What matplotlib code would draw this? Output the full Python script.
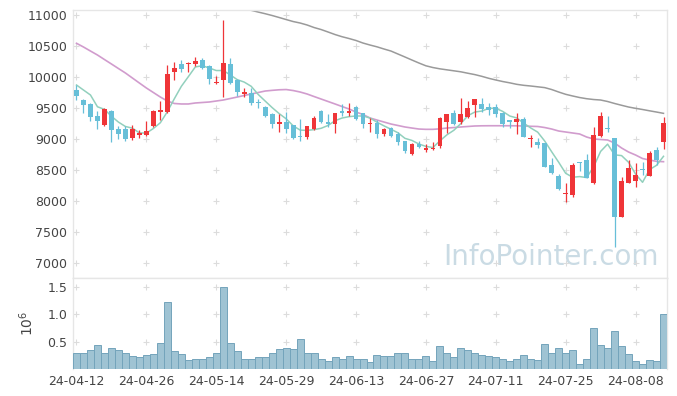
import matplotlib
matplotlib.use("Agg")
import matplotlib.pyplot as plt
import numpy as np
import pandas as pd

# daily candles (open, high, low, close)
opens = [9790, 9629, 9564, 9376, 9226, 9452, 9157, 9161, 9020, 9065,
         9065, 9210, 9440, 9440, 10085, 10205, 10205, 10215, 10275, 10180,
         9900, 9952, 10205, 9952, 9720, 9750, 9585, 9520, 9410, 9236,
         9270, 9226, 9045, 9037, 9160, 9452, 9270, 9236, 9452, 9425,
         9520, 9414, 9236, 9260, 9085, 9170, 9080, 8970, 8753, 8925,
         8823, 8835, 8890, 9270, 9414, 9280, 9360, 9548, 9565, 9510,
         9510, 9420, 9305, 9280, 9320, 8995, 8955, 8930, 8580, 8403,
         8120, 8097, 8625, 8662, 8285, 9050, 9180, 9010, 7747, 8295,
         8330, 8510, 8405, 8822, 8956]
highs = [9870, 9640, 9576, 9450, 9500, 9470, 9210, 9210, 9230, 9150,
         9290, 9460, 9610, 10194, 10245, 10275, 10235, 10320, 10300, 10190,
         10020, 10920, 10300, 9960, 9830, 9830, 9645, 9525, 9420, 9400,
         9440, 9230, 9330, 9215, 9370, 9460, 9400, 9420, 9560, 9575,
         9530, 9420, 9340, 9300, 9180, 9190, 9120, 8975, 8935, 8960,
         8920, 8955, 9360, 9410, 9470, 9655, 9620, 9650, 9655, 9575,
         9565, 9430, 9310, 9415, 9360, 9065, 9010, 8940, 8690, 8435,
         8285, 8605, 8625, 8755, 9200, 9440, 9370, 9015, 8380, 8660,
         8610, 8625, 8810, 8875, 9350]
lows = [9630, 9419, 9295, 9157, 9210, 8956, 8995, 8960, 8985, 9020,
        9050, 9200, 9300, 9415, 9950, 10075, 10085, 10180, 10130, 9890,
        9895, 9680, 9895, 9700, 9670, 9550, 9495, 9360, 9170, 9120,
        9100, 8995, 8970, 8995, 9150, 9260, 9200, 9090, 9375, 9370,
        9305, 9185, 9120, 9010, 9050, 9040, 8910, 8770, 8740, 8850,
        8795, 8830, 8850, 9090, 9220, 9250, 9335, 9360, 9440, 9390,
        9360, 9200, 9170, 9080, 9030, 8875, 8850, 8550, 8440, 8180,
        7980, 8070, 8490, 8370, 8280, 9025, 9110, 7263, 7745, 8290,
        8230, 8420, 8400, 8580, 8835]
closes = [9700, 9553, 9360, 9295, 9484, 9145, 9081, 9005, 9161, 9100,
          9130, 9452, 9470, 10048, 10145, 10130, 10230, 10258, 10150, 9960,
          9925, 10230, 9910, 9763, 9763, 9585, 9575, 9375, 9235, 9280,
          9165, 9010, 9030, 9210, 9343, 9270, 9240, 9414, 9425, 9455,
          9323, 9240, 9253, 9085, 9160, 9050, 8955, 8805, 8915, 8870,
          8860, 8860, 9345, 9400, 9240, 9400, 9495, 9640, 9480, 9460,
          9405, 9240, 9270, 9325, 9037, 9020, 8900, 8555, 8457, 8193,
          8130, 8580, 8610, 8375, 9065, 9370, 9165, 7747, 8315, 8527,
          8420, 8500, 8770, 8660, 9253]
# closes of the 4 days before the window (needed for the 5-day average)
prev_closes = [9958, 9760, 10245, 9692]

# volume in millions
volume = [0.30, 0.29, 0.34, 0.43, 0.29, 0.38, 0.345, 0.30, 0.23, 0.21,
          0.25, 0.27, 0.47, 1.21, 0.32, 0.27, 0.16, 0.18, 0.19, 0.21,
          0.285, 1.50, 0.47, 0.32, 0.18, 0.19, 0.21, 0.21, 0.30, 0.36,
          0.375, 0.36, 0.54, 0.30, 0.285, 0.175, 0.14, 0.21, 0.19, 0.235,
          0.175, 0.19, 0.12, 0.25, 0.23, 0.23, 0.30, 0.285, 0.19, 0.175,
          0.23, 0.14, 0.41, 0.30, 0.21, 0.39, 0.34, 0.285, 0.25, 0.23,
          0.21, 0.175, 0.14, 0.175, 0.25, 0.19, 0.16, 0.45, 0.30, 0.375,
          0.30, 0.34, 0.10, 0.175, 0.74, 0.43, 0.375, 0.70, 0.41, 0.27,
          0.14, 0.10, 0.16, 0.14, 1.00]

# 20-day average as drawn
ma20 = [10544, 10484, 10419, 10355, 10282, 10210, 10137, 10065, 9984, 9903,
        9823, 9750, 9677, 9613, 9573, 9565, 9565, 9581, 9589, 9597,
        9613, 9629, 9653, 9677, 9702, 9726, 9750, 9774, 9785, 9794,
        9798, 9782, 9758, 9726, 9685, 9645, 9605, 9565, 9524, 9484,
        9435, 9395, 9339, 9306, 9274, 9242, 9218, 9194, 9177, 9161,
        9156, 9156, 9164, 9177, 9185, 9194, 9202, 9210, 9213, 9214,
        9214, 9214, 9214, 9213, 9210, 9205, 9202, 9185, 9161, 9129,
        9113, 9097, 9081, 9032, 9000, 8992, 8984, 8935, 8855, 8790,
        8742, 8685, 8661, 8640, 8634]
# 60-day average, visible from day 24 on
ma60_start = 24
ma60 = [11113, 11076, 11048, 11021, 10992, 10960, 10927, 10895, 10871, 10839,
        10798, 10766, 10726, 10685, 10650, 10621, 10589, 10548, 10516, 10487,
        10452, 10419, 10371, 10323, 10274, 10226, 10181, 10153, 10132, 10116,
        10100, 10084, 10061, 10039, 10011, 9979, 9952, 9927, 9906, 9882,
        9866, 9855, 9842, 9829, 9798, 9758, 9721, 9694, 9669, 9650,
        9637, 9629, 9605, 9573, 9544, 9516, 9495, 9476, 9455, 9435, 9414]

tick_labels = ["24-04-12", "24-04-26", "24-05-14", "24-05-29", "24-06-13",
               "24-06-27", "24-07-11", "24-07-25", "24-08-08"]

up_color = "#ef3538"
down_color = "#67bfd8"
grid_color = "#dcdcdc"
spine_color = "#e6e6e6"
text_color = "#444444"

n = len(closes)
x = np.arange(n)
o = np.array(opens, float)
c = np.array(closes, float)
h = np.array(highs, float)
l = np.array(lows, float)

all_close = pd.Series(prev_closes + closes)
ma5 = all_close.rolling(5).mean().to_numpy()[len(prev_closes):]

fig = plt.figure(figsize=(6.77, 3.96), dpi=100)
ax = fig.add_axes([73 / 677, 1 - 278 / 396, 594 / 677, 268 / 396])
axv = fig.add_axes([73 / 677, 1 - 369 / 396, 594 / 677, 91 / 396], sharex=ax)

# moving averages
ax.plot(x[ma60_start:ma60_start + len(ma60)], ma60, color="#9a9a9a", lw=1.1, zorder=2)
ax.plot(x, ma20, color="#c98bc5", lw=1.2, alpha=0.85, zorder=2)
ax.plot(x, ma5, color="#92d0bd", lw=1.1, zorder=2)

# candles
colors = np.where(c >= o, up_color, down_color)
body_bottom = np.minimum(o, c)
body_height = np.maximum(np.abs(c - o), 14)
ax.vlines(x, l, h, colors=colors, lw=0.9, zorder=3)
ax.bar(x, body_height, bottom=body_bottom, width=0.68, color=colors, zorder=4)

# volume
axv.bar(x, volume, width=1.0, color="#9fc3d3", edgecolor="#74a4bb", lw=0.7, zorder=3)

xticks = np.arange(0, n, 10)
yticks = np.arange(7000, 11001, 500)
vticks = [0.5, 1.0, 1.5]

ax.set_xlim(-0.5, n - 0.5)
ax.set_ylim(6758, 11081)
ax.set_yticks(yticks)
ax.set_yticklabels([str(v) for v in yticks])
axv.set_ylim(0, 1.655)
axv.set_yticks(vticks)
axv.set_yticklabels(["0.5", "1.0", "1.5"])
axv.set_xticks(xticks)
axv.set_xticklabels(tick_labels)
plt.setp(ax.get_xticklabels(), visible=False)

# cross-shaped grid marks at tick intersections
gx, gy = np.meshgrid(xticks, yticks)
ax.scatter(gx.ravel(), gy.ravel(), marker="+", s=22, color=grid_color, lw=0.8, zorder=1)
gx, gy = np.meshgrid(xticks, vticks)
axv.scatter(gx.ravel(), gy.ravel(), marker="+", s=22, color=grid_color, lw=0.8, zorder=1)

for a in (ax, axv):
    a.tick_params(length=0, labelsize=9, labelcolor=text_color, pad=4)
    for s in a.spines.values():
        s.set_color(spine_color)
        s.set_linewidth(1.0)
axv.spines["bottom"].set_visible(False)

axv.set_ylabel(r"$10^6$", fontsize=10, color=text_color, labelpad=8)

ax.text(0.805, 0.078, "InfoPointer.com", transform=ax.transAxes, ha="center",
        va="center", fontsize=20, color="#b9d0dc", alpha=0.75, zorder=0)

fig.savefig("out.png", dpi=100)
